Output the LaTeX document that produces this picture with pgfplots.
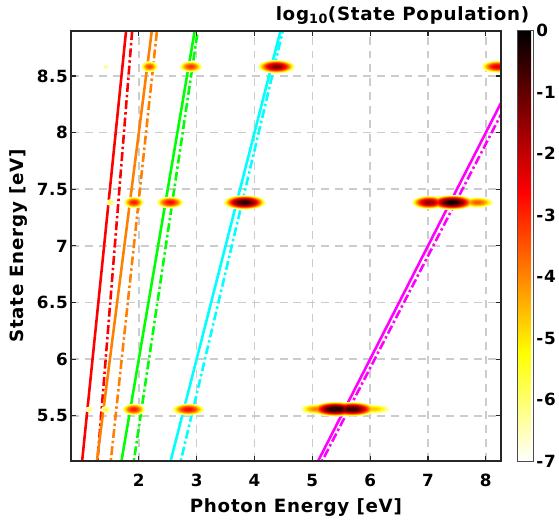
\documentclass[border=0pt]{standalone}
\usepackage{fontspec}
\setmainfont{DejaVu Sans}[LetterSpace=4]
\usepackage{pgfplots}
\pgfplotsset{compat=1.18}
\usepackage{pgfplotstable}

\definecolor{mOrange}{rgb}{1,0.5,0}
\definecolor{mGreen}{rgb}{0,1,0}
\definecolor{mCyan}{rgb}{0,1,1}
\definecolor{mMag}{rgb}{1,0,1}
\newcommand\fs{\fontsize{17}{20}\selectfont\bfseries}
\newcommand\fl{\fontsize{18.5}{22}\selectfont\bfseries}

% blobs: centre (x,y), peak log10 population p, gaussian width sx (eV)
\pgfplotstableread{
x y p sx
1.143 5.555 -5.8 0.031
1.430 5.555 -5.4 0.031
1.914 5.555 -2.7 0.046
2.857 5.555 -2.5 0.063
5.060 5.558 -3.8 0.070
5.400 5.558 -0.05 0.075
5.690 5.558 -0.4 0.075
6.050 5.558 -4.5 0.090
1.510 7.383 -5.5 0.029
1.917 7.383 -2.7 0.040
2.543 7.383 -2.5 0.053
3.830 7.383 -0.3 0.068
7.020 7.383 -1.3 0.060
7.420 7.383 0.0 0.070
7.860 7.383 -3.4 0.069
1.430 8.582 -6.0 0.025
2.186 8.582 -3.2 0.036
2.900 8.582 -3.0 0.047
4.380 8.582 -1.2 0.064
8.200 8.582 -2.2 0.060
}\blobs

\newdimen\blobdim
\pgfdeclareplotmark{blob}{%
  \blobdim=\blobrx\relax
  \ifdim\blobdim>0.01pt
  \pgfpathellipse{\pgfpointorigin}{\pgfqpoint{\blobrx}{0pt}}{\pgfqpoint{0pt}{\blobry}}%
  \pgfusepathqfill
  \fi}

\pgfplotsset{
  layers/mylayers/.define layer set={
    axis background,axis grid,main,axis ticks,axis lines,axis tick labels,axis descriptions,axis foreground
  }{/pgfplots/layers/standard},
  every tick label/.append style={font=\fs},
  every axis label/.append style={font=\fl},
  every axis title/.append style={font=\fl},
  bloblevel/.style={scatter, only marks, mark=blob,
    scatter/use mapped color={draw=none, fill=mapped color},
    point meta={#1},
    visualization depends on={\thisrow{p} \as \pk},
    visualization depends on={\thisrow{sx} \as \sx},
    scatter/@pre marker code/.append code={%
      \pgfmathsetmacro\blobk{sqrt(4.60517*max(\pk-(#1),0))}%
      \pgfmathsetlengthmacro\blobrx{\blobk*\sx*58.33*1.00375}%
      \pgfmathsetlengthmacro\blobry{\blobk*0.0115*114.21*1.00375}%
    }},
}

\begin{document}
\begin{tikzpicture}
\begin{axis}[name=main,
  set layers=mylayers,
  x=58.33bp, y=114.21bp,
  xmin=0.834, xmax=8.257, ymin=5.1, ymax=8.9,
  xtick={2,3,4,5,6,7,8}, ytick={5.5,6,6.5,7,7.5,8,8.5},
  /pgf/number format/assume math mode=true,
  tick align=inside, major tick length=5bp,
  tick style={black!85, line width=1.2bp},
  axis line style={black!85, line width=2bp},
  xmajorgrids, ymajorgrids,
  grid style={black!20, line width=1.6bp, dash pattern=on 8bp off 6bp},
  xticklabel style={yshift=-10bp},
  xlabel={Photon Energy [eV]},
  ylabel={State Energy [eV]},
  xlabel style={at={(axis description cs:0.523,-0.108)}, anchor=center},
  ylabel style={at={(axis description cs:-0.124,0.5)}, anchor=center},
  title={log\textsubscript{10}(State Population)},
  every axis title shift=0pt,
  title style={at={(axis description cs:1,1)}, anchor=base east, inner sep=0pt, xshift=29bp, yshift=10.5bp},
  clip marker paths=true,
  colormap={revhot}{rgb(0cm)=(1,1,1); rgb(2cm)=(1,1,0); rgb(5cm)=(1,0,0); rgb(8cm)=(0,0,0)},
  point meta min=-7, point meta max=0,
  colorbar,
  colorbar style={
    at={(parent axis.north east)}, anchor=north west, xshift=8bp,
    width=16bp,
    ytick={-7,-6,-5,-4,-3,-2,-1,0},
    /pgf/number format/assume math mode=true,
    major tick length=0pt,
    axis line style={black!70, line width=0.8bp},
  },
]
% n-photon resonance lines (solid) and shifted (dash-dot)
\addplot[red, line width=2.6bp] coordinates {(1.0,5.0) (1.8,9.0)};
\addplot[red, line width=2.6bp, dash pattern=on 9bp off 3bp on 2.5bp off 3bp] coordinates {(1.269,5.0) (1.901,9.0)};
\addplot[mOrange, line width=2.6bp] coordinates {(1.25,5.0) (2.25,9.0)};
\addplot[mOrange, line width=2.6bp, dash pattern=on 9bp off 3bp on 2.5bp off 3bp] coordinates {(1.494,5.0) (2.335,9.0)};
\addplot[mGreen, line width=2.6bp] coordinates {(1.6667,5.0) (3.0,9.0)};
\addplot[mGreen, line width=2.6bp, dash pattern=on 9bp off 3bp on 2.5bp off 3bp] coordinates {(1.885,5.0) (3.049,9.0)};
\addplot[mCyan, line width=2.6bp] coordinates {(2.5,5.0) (4.5,9.0)};
\addplot[mCyan, line width=2.6bp, dash pattern=on 9bp off 3bp on 2.5bp off 3bp] coordinates {(2.679,5.0) (4.537,9.0)};
\addplot[mMag, line width=2.6bp] coordinates {(5.0,5.0) (9.0,9.0)};
\addplot[mMag, line width=2.6bp, dash pattern=on 9bp off 3bp on 2.5bp off 3bp] coordinates {(5.069,5.0) (9.0,8.89)};
% population blobs, drawn level by level
\addplot[bloblevel=-6.9] table {\blobs};
\addplot[bloblevel=-6.7] table {\blobs};
\addplot[bloblevel=-6.5] table {\blobs};
\addplot[bloblevel=-6.3] table {\blobs};
\addplot[bloblevel=-6.1] table {\blobs};
\addplot[bloblevel=-5.9] table {\blobs};
\addplot[bloblevel=-5.7] table {\blobs};
\addplot[bloblevel=-5.5] table {\blobs};
\addplot[bloblevel=-5.3] table {\blobs};
\addplot[bloblevel=-5.1] table {\blobs};
\addplot[bloblevel=-4.9] table {\blobs};
\addplot[bloblevel=-4.7] table {\blobs};
\addplot[bloblevel=-4.5] table {\blobs};
\addplot[bloblevel=-4.3] table {\blobs};
\addplot[bloblevel=-4.1] table {\blobs};
\addplot[bloblevel=-3.9] table {\blobs};
\addplot[bloblevel=-3.7] table {\blobs};
\addplot[bloblevel=-3.5] table {\blobs};
\addplot[bloblevel=-3.3] table {\blobs};
\addplot[bloblevel=-3.1] table {\blobs};
\addplot[bloblevel=-2.9] table {\blobs};
\addplot[bloblevel=-2.7] table {\blobs};
\addplot[bloblevel=-2.5] table {\blobs};
\addplot[bloblevel=-2.3] table {\blobs};
\addplot[bloblevel=-2.1] table {\blobs};
\addplot[bloblevel=-1.9] table {\blobs};
\addplot[bloblevel=-1.7] table {\blobs};
\addplot[bloblevel=-1.5] table {\blobs};
\addplot[bloblevel=-1.3] table {\blobs};
\addplot[bloblevel=-1.1] table {\blobs};
\addplot[bloblevel=-0.9] table {\blobs};
\addplot[bloblevel=-0.7] table {\blobs};
\addplot[bloblevel=-0.5] table {\blobs};
\addplot[bloblevel=-0.3] table {\blobs};
\addplot[bloblevel=-0.1] table {\blobs};
\end{axis}
\path[use as bounding box] ([shift={(-72bp,-63bp)}]main.south west) rectangle ([shift={(54bp,31bp)}]main.north east);
\end{tikzpicture}
\end{document}
